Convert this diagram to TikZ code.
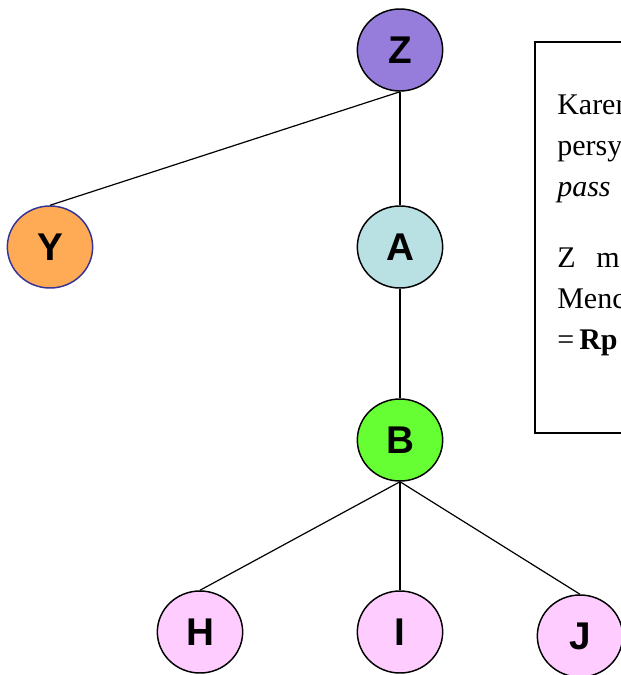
\documentclass[tikz,border=0pt]{standalone}
\usepackage{fontspec}
\setmainfont{Liberation Serif}
\newfontfamily\labelfont{Liberation Sans}
\usetikzlibrary{shapes.geometric}

\definecolor{zpurple}{RGB}{150,125,220}
\definecolor{yorange}{RGB}{255,170,85}
\definecolor{yborder}{RGB}{51,51,153}
\definecolor{ablue}{RGB}{185,224,226}
\definecolor{bgreen}{RGB}{102,255,51}
\definecolor{leafpink}{RGB}{255,204,255}

\tikzset{
  vert/.style={draw, ellipse, line width=1.1pt, minimum width=64pt, minimum height=61.5pt,
    inner sep=0pt, font=\labelfont\bfseries\fontsize{29}{29}\selectfont},
  edge/.style={line width=0.9pt}
}

\begin{document}
\begin{tikzpicture}[x=0.75pt, y=-0.75pt]
  \useasboundingbox (0,0) rectangle (621,675);
  \clip (0,0) rectangle (621,675);

  % Nodes
  \node[vert, fill=zpurple] (Z) at (400,50) {Z};
  \node[vert, fill=yorange, draw=yborder] (Y) at (50,247) {Y};
  \node[vert, fill=ablue] (A) at (400,247) {A};
  \node[vert, fill=bgreen] (B) at (400,440) {B};
  \foreach \n/\x/\y in {H/200/632, I/400/632, J/580/636}{
    \node[vert, fill=leafpink] (\n) at (\x,\y) {\n};
  }

  % Edges
  \foreach \p/\c in {Z/Y, Z/A, A/B, B/H, B/I, B/J}{
    \draw[edge] (\p.south) -- (\c.north);
  }

  % Text box
  \draw[line width=0.9pt] (535,42) rectangle (640,433);
  \begin{scope}[every node/.style={anchor=base west, inner sep=0pt, font=\fontsize{22.5}{34}\selectfont}]
    \node (t1) at (557,114) {Karen};
    \node (t2) at (557,155) {persy};
    \node (t3) at (557,196) {\itshape pass};
    \node (t4) at (557,267) {Z};
    \node (t5) at (596,267) {m};
    \node (t6) at (557,308) {Menc};
    \node (t7) at (557,349) {=};
    \node (t8) at (579,349) {\bfseries Rp};
  \end{scope}
\end{tikzpicture}
\end{document}
